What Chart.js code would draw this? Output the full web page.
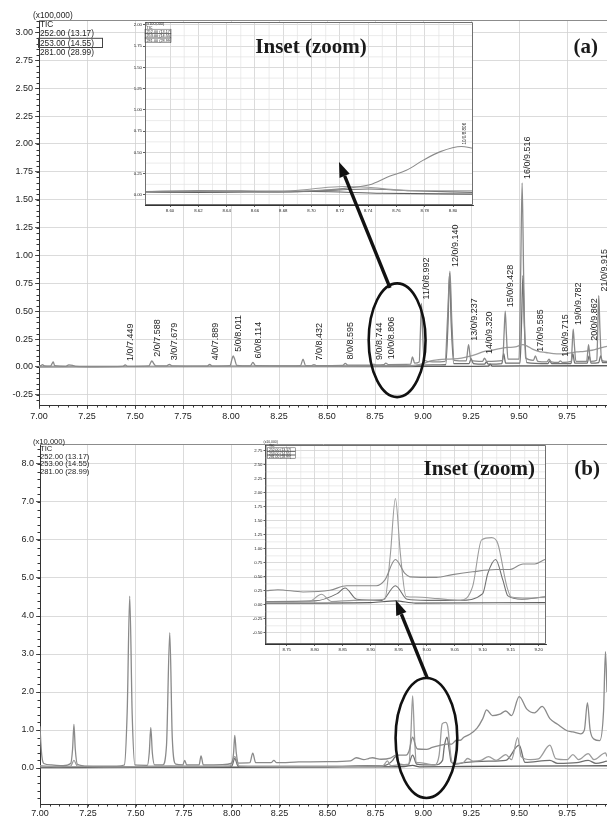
<!DOCTYPE html>
<html>
<head>
<meta charset="utf-8">
<meta name="viewport" content="width=device-width, initial-scale=1.0" />
<style>
  html, body { margin: 0; padding: 0; background: #fff; overflow: hidden; }
  #page { position: relative; width: 607px; height: 817px; }
  #page canvas { position: absolute; display: block; }
</style>
</head>
<body>
<script src="https://cdn.jsdelivr.net/npm/chart.js@4.4.1/dist/chart.umd.min.js"></script>
<div id="page">
  <canvas id="chartA" width="607" height="425" style="left:0;top:0"></canvas>
  <canvas id="insetA" width="370" height="205" style="left:110px;top:12px"></canvas>
  <canvas id="chartB" width="607" height="392" style="left:0;top:425px"></canvas>
  <canvas id="insetB" width="315" height="220" style="left:240px;top:435px"></canvas>
  <canvas id="marks" width="607" height="817" style="left:0;top:0"></canvas>
</div>
<script>
  // ---------- axis ranges and tick labels ----------
  const timeRange = [7.00, 9.958];
  const timeTicks = [7.00, 7.25, 7.50, 7.75, 8.00, 8.25, 8.50, 8.75, 9.00, 9.25, 9.50, 9.75];
  const aRange = [-0.341, 3.112];
  const aTicks = [-0.25, 0, 0.25, 0.50, 0.75, 1.00, 1.25, 1.50, 1.75, 2.00, 2.25, 2.50, 2.75, 3.00];
  const bRange = [-0.947, 8.526];
  const bTicks = [0, 1, 2, 3, 4, 5, 6, 7, 8];
  const zoomATimeRange = [8.5823, 8.8141];
  const zoomATimeTicks = [8.60, 8.62, 8.64, 8.66, 8.68, 8.70, 8.72, 8.74, 8.76, 8.78, 8.80];
  const zoomARange = [-0.118, 2.035];
  const zoomATicks = [0, 0.25, 0.50, 0.75, 1.00, 1.25, 1.50, 1.75, 2.00];
  const zoomBTimeRange = [8.712, 9.213];
  const zoomBTimeTicks = [8.75, 8.80, 8.85, 8.90, 8.95, 9.00, 9.05, 9.10, 9.15, 9.20];
  const zoomBRange = [-0.70, 2.855];
  const zoomBTicks = [-0.50, -0.25, 0, 0.25, 0.50, 0.75, 1.00, 1.25, 1.50, 1.75, 2.00, 2.25, 2.50, 2.75];

  const traceNames = ['TIC', '252.00 (13.17)', '253.00 (14.55)', '281.00 (28.99)'];

  // ---------- run (a), intensity x100,000 : [time, value] ----------
  const aTic = [
    [7.000,0.010],[7.010,0.012],[7.018,0.022],[7.028,0.010],[7.060,0.008],[7.068,0.030],[7.074,0.045],[7.082,0.012],
    [7.140,0.006],[7.155,0.018],[7.175,0.015],[7.190,0.006],[7.300,0.002],[7.436,0.005],[7.449,0.018],[7.462,0.006],
    [7.572,0.010],[7.582,0.040],[7.588,0.055],[7.596,0.035],[7.608,0.010],[7.665,0.010],[7.679,0.024],[7.692,0.010],
    [7.876,0.008],[7.889,0.024],[7.902,0.008],[7.995,0.012],[8.005,0.070],[8.011,0.100],[8.018,0.075],[8.030,0.015],
    [8.100,0.010],[8.114,0.040],[8.128,0.012],[8.300,0.010],[8.362,0.012],[8.375,0.070],[8.388,0.012],[8.420,0.012],
    [8.432,0.022],[8.444,0.012],[8.582,0.014],[8.595,0.032],[8.608,0.016],[8.700,0.016],[8.735,0.018],[8.744,0.026],
    [8.755,0.018],[8.795,0.020],[8.806,0.034],[8.818,0.022],[8.935,0.025],[8.945,0.090],[8.956,0.035],[8.980,0.045],
    [8.986,0.300],[8.992,0.570],[8.998,0.300],[9.006,0.060],[9.050,0.045],[9.115,0.050],[9.128,0.450],[9.140,0.860],
    [9.150,0.400],[9.162,0.060],[9.225,0.055],[9.237,0.200],[9.249,0.060],[9.310,0.050],[9.320,0.080],[9.332,0.050],
    [9.415,0.060],[9.422,0.300],[9.428,0.500],[9.434,0.300],[9.442,0.070],[9.500,0.070],[9.508,0.800],[9.516,1.650],
    [9.524,0.800],[9.534,0.080],[9.575,0.060],[9.585,0.100],[9.597,0.050],[9.645,0.045],[9.656,0.070],[9.668,0.045],
    [9.705,0.040],[9.715,0.055],[9.726,0.040],[9.772,0.050],[9.777,0.200],[9.782,0.340],[9.788,0.200],[9.796,0.050],
    [9.852,0.050],[9.862,0.200],[9.872,0.050],[9.905,0.060],[9.910,0.350],[9.915,0.640],[9.921,0.350],[9.930,0.060],
    [9.958,0.050]
  ];
  const a252 = [
    [7.000,0.004],[7.500,0.004],[8.000,0.006],[8.500,0.008],[8.900,0.010],[8.960,0.015],[9.000,0.030],[9.040,0.055],
    [9.080,0.065],[9.120,0.070],[9.160,0.072],[9.200,0.080],[9.240,0.095],[9.280,0.115],[9.320,0.140],[9.360,0.150],
    [9.400,0.165],[9.440,0.175],[9.480,0.180],[9.520,0.200],[9.540,0.190],[9.570,0.160],[9.600,0.140],[9.640,0.130],
    [9.680,0.120],[9.720,0.118],[9.760,0.125],[9.800,0.135],[9.840,0.140],[9.880,0.150],[9.920,0.170],[9.958,0.185]
  ];
  const a253 = [
    [7.000,0.006],[7.700,0.006],[8.300,0.008],[8.900,0.012],[9.050,0.018],[9.118,0.020],[9.130,0.400],[9.138,0.840],
    [9.147,0.380],[9.160,0.030],[9.240,0.030],[9.250,0.075],[9.262,0.030],[9.320,0.025],[9.330,0.045],[9.340,0.025],
    [9.410,0.030],[9.420,0.120],[9.430,0.035],[9.505,0.035],[9.513,0.400],[9.520,0.820],[9.527,0.400],[9.540,0.040],
    [9.650,0.030],[9.660,0.055],[9.670,0.030],[9.770,0.030],[9.780,0.120],[9.790,0.035],[9.855,0.035],[9.865,0.100],
    [9.875,0.035],[9.915,0.040],[9.925,0.100],[9.935,0.040],[9.958,0.040]
  ];
  const a281 = [
    [7.000,0.002],[8.000,0.003],[8.900,0.004],[9.200,0.006],[9.340,0.008],[9.350,0.025],[9.360,0.008],[9.600,0.010],[9.958,0.012]
  ];
  // numbered peaks of run (a)
  const aPeakTimes = [7.449, 7.588, 7.679, 7.889, 8.011, 8.114, 8.432, 8.595, 8.744, 8.806, 8.992,
    9.140, 9.237, 9.320, 9.428, 9.516, 9.585, 9.715, 9.782, 9.862, 9.915];

  // zoomed window of run (a)
  const zA1 = [[8.582,0.040],[8.620,0.045],[8.660,0.045],[8.700,0.050],[8.725,0.080],[8.741,0.120],[8.755,0.220],
    [8.767,0.290],[8.779,0.410],[8.791,0.510],[8.806,0.570],[8.814,0.550]];
  const zA2 = [[8.582,0.030],[8.620,0.040],[8.640,0.035],[8.660,0.030],[8.680,0.040],[8.700,0.070],[8.722,0.100],
    [8.740,0.090],[8.760,0.060],[8.780,0.050],[8.814,0.050]];
  const zA3 = [[8.582,0.040],[8.620,0.050],[8.650,0.045],[8.680,0.035],[8.720,0.060],[8.740,0.070],[8.770,0.050],[8.814,0.030]];
  const zA4 = [[8.582,0.030],[8.650,0.030],[8.700,0.040],[8.750,0.020],[8.814,0.010]];
  const zAPeak = 8.806;

  // ---------- run (b), intensity x10,000 ----------
  const bTic = [
    [7.000,1.100],[7.004,0.700],[7.010,0.300],[7.020,0.120],[7.060,0.080],[7.120,0.060],[7.160,0.120],[7.170,0.500],
    [7.177,1.150],[7.184,0.500],[7.195,0.100],[7.250,0.050],[7.400,0.050],[7.440,0.080],[7.455,1.500],[7.468,4.520],
    [7.481,1.400],[7.495,0.080],[7.560,0.070],[7.570,0.400],[7.578,1.070],[7.586,0.400],[7.598,0.080],[7.640,0.080],
    [7.660,0.600],[7.677,3.560],[7.690,0.800],[7.708,0.100],[7.745,0.080],[7.755,0.200],[7.765,0.080],[7.830,0.080],
    [7.840,0.320],[7.852,0.080],[7.950,0.090],[8.000,0.130],[8.010,0.400],[8.016,0.860],[8.024,0.400],[8.035,0.130],
    [8.095,0.140],[8.110,0.390],[8.125,0.140],[8.205,0.140],[8.220,0.200],[8.235,0.140],[8.350,0.160],[8.500,0.170],
    [8.620,0.190],[8.650,0.270],[8.690,0.220],[8.714,0.250],[8.734,0.270],[8.779,0.230],[8.827,0.260],[8.857,0.340],
    [8.910,0.340],[8.925,0.440],[8.944,0.810],[8.961,0.560],[8.970,0.500],[9.017,0.490],[9.046,0.540],[9.082,0.590],
    [9.124,0.630],[9.148,0.630],[9.172,0.730],[9.193,0.730],[9.211,0.810],[9.240,0.880],[9.280,1.050],[9.310,1.300],
    [9.330,1.530],[9.360,1.380],[9.400,1.420],[9.430,1.500],[9.460,1.380],[9.500,1.880],[9.540,1.550],[9.580,1.450],
    [9.620,1.620],[9.660,1.300],[9.700,1.150],[9.750,0.980],[9.780,0.950],[9.820,0.900],[9.840,1.000],[9.856,1.720],
    [9.870,1.000],[9.890,0.760],[9.920,0.720],[9.940,1.500],[9.950,3.060],[9.958,2.000]
  ];
  const b252 = [
    [7.000,0.060],[7.100,0.040],[7.160,0.050],[7.177,0.200],[7.195,0.050],[7.400,0.030],[7.600,0.040],[7.800,0.040],
    [7.990,0.050],[8.016,0.300],[8.040,0.050],[8.300,0.040],[8.600,0.040],[8.714,0.050],[8.790,0.060],[8.812,0.190],
    [8.830,0.060],[8.870,0.080],[8.925,0.100],[8.935,0.900],[8.944,1.900],[8.953,0.900],[8.963,0.150],[8.980,0.140],
    [9.020,0.110],[9.060,0.080],[9.082,0.330],[9.098,1.160],[9.116,1.200],[9.127,1.090],[9.143,0.330],[9.151,0.140],
    [9.180,0.120],[9.211,0.150],[9.230,0.250],[9.260,0.180],[9.300,0.200],[9.340,0.300],[9.380,0.200],[9.430,0.350],
    [9.460,0.220],[9.492,0.800],[9.510,0.300],[9.560,0.220],[9.600,0.240],[9.660,0.600],[9.690,0.250],[9.750,0.220],
    [9.780,0.350],[9.810,0.220],[9.860,0.380],[9.890,0.220],[9.950,0.400],[9.958,0.300]
  ];
  const b253 = [
    [7.000,0.020],[7.470,0.030],[7.680,0.050],[7.900,0.040],[8.000,0.050],[8.016,0.250],[8.035,0.040],[8.500,0.040],
    [8.714,0.060],[8.800,0.070],[8.840,0.200],[8.854,0.300],[8.875,0.100],[8.920,0.080],[8.944,0.340],[8.965,0.100],
    [9.000,0.080],[9.060,0.080],[9.100,0.200],[9.109,0.560],[9.123,0.810],[9.136,0.440],[9.145,0.160],[9.170,0.100],
    [9.211,0.140],[9.340,0.180],[9.430,0.200],[9.500,0.600],[9.530,0.150],[9.660,0.200],[9.700,0.120],[9.800,0.140],
    [9.860,0.200],[9.900,0.120],[9.958,0.180]
  ];
  const b281 = [
    [7.000,0.010],[7.500,0.020],[8.000,0.020],[8.500,0.025],[8.714,0.030],[8.900,0.040],[8.944,0.070],[8.980,0.030],
    [9.211,0.040],[9.500,0.050],[9.958,0.060]
  ];

  const greys = ['#8a8a8a', '#9c9c9c', '#707070', '#5c5c5c'];
  const sans = '"Liberation Sans", Arial, sans-serif';
  const serif = '"Liberation Serif", "Times New Roman", serif';

  // ---------- drawing helpers ----------
  const halfSteps = t => t.slice(1).map((v, i) => (v + t[i]) / 2);

  function minorTicks(ctx, scale, step, len, horizontal) {
    const n0 = Math.ceil(scale.min / step - 1e-9), n1 = Math.floor(scale.max / step + 1e-9);
    ctx.beginPath();
    for (let n = n0; n <= n1; n++) {
      const p = Math.round(scale.getPixelForValue(n * step)) + 0.5;
      if (horizontal) { ctx.moveTo(p, scale.top); ctx.lineTo(p, scale.top + len); }
      else { ctx.moveTo(scale.right, p); ctx.lineTo(scale.right - len, p); }
    }
    ctx.stroke();
  }

  const decor = {
    id: 'decor',
    beforeDraw(chart, args, o) {
      if (!o.fill) return;
      const a = chart.chartArea, ctx = chart.ctx;
      ctx.save();
      ctx.fillStyle = '#fff';
      ctx.fillRect(a.left, a.top, a.right - a.left, a.bottom - a.top);
      ctx.restore();
    },
    beforeDatasetsDraw(chart, args, o) {
      if (!o.minorGrid) return;
      const a = chart.chartArea, ctx = chart.ctx, {x, y} = chart.scales;
      ctx.save();
      ctx.strokeStyle = '#e3e3e3';
      ctx.lineWidth = 0.7;
      ctx.beginPath();
      o.minorGrid[0].forEach(v => { const p = x.getPixelForValue(v); ctx.moveTo(p, a.top); ctx.lineTo(p, a.bottom); });
      o.minorGrid[1].forEach(v => { const p = y.getPixelForValue(v); ctx.moveTo(a.left, p); ctx.lineTo(a.right, p); });
      ctx.stroke();
      ctx.restore();
    },
    afterDraw(chart, args, o) {
      const a = chart.chartArea, ctx = chart.ctx, {x, y} = chart.scales;
      ctx.save();
      // frame
      ctx.strokeStyle = o.frameColor;
      ctx.lineWidth = 1;
      ctx.beginPath();
      if (o.box) ctx.rect(a.left + 0.5, a.top + 0.5, a.right - a.left - 1, a.bottom - a.top - 1);
      else { ctx.moveTo(a.left, a.top + 0.5); ctx.lineTo(a.right, a.top + 0.5); }
      ctx.stroke();
      // minor ticks
      if (o.minor) {
        ctx.strokeStyle = '#333';
        minorTicks(ctx, x, o.minor[0], o.minor[2], true);
        minorTicks(ctx, y, o.minor[1], o.minor[2], false);
      }
      // trace list in the corner
      const L = o.legend;
      if (L) {
        ctx.fillStyle = '#1e1e1e';
        ctx.font = L.size + 'px ' + sans;
        ctx.textBaseline = 'middle';
        ctx.textAlign = 'left';
        ctx.fillText(L.unit, a.left + L.unitDx, a.top + L.unitDy);
        traceNames.forEach((t, i) => {
          const ty = a.top + L.first + i * L.gap;
          ctx.fillText(t, a.left + L.dx, ty);
          if (L.boxed.includes(i)) {
            ctx.strokeStyle = '#444';
            ctx.lineWidth = L.size > 6 ? 1 : 0.5;
            ctx.strokeRect(a.left + L.dx - 1.5, ty - L.gap / 2 - 0.5, L.boxW, L.gap);
          }
        });
      }
      // retention-time labels above the peaks
      const P = o.peaks;
      if (P) {
        ctx.fillStyle = '#1e1e1e';
        ctx.font = P.size + 'px ' + sans;
        ctx.textAlign = 'left';
        ctx.textBaseline = 'top';
        P.times.forEach((t, i) => {
          const top = P.series.find(p => p[0] === t);
          ctx.save();
          ctx.translate(x.getPixelForValue(t) + 1, y.getPixelForValue(top[1]) - P.gap);
          ctx.rotate(-Math.PI / 2);
          ctx.fillText((P.numbers[i]) + '/0/' + t.toFixed(3), 0, 0);
          ctx.restore();
        });
      }
      ctx.restore();
    }
  };

  function axis(range, ticks, digits, size, tickLen, pad, fit) {
    return {
      type: 'linear', min: range[0], max: range[1],
      afterBuildTicks: s => { s.ticks = ticks.map(value => ({value})); },
      afterFit: fit,
      ticks: { autoSkip: false, maxRotation: 0, padding: pad, color: '#222',
        font: { family: sans, size }, callback: v => v.toFixed(digits) },
      grid: { color: '#d2d2d2', lineWidth: 0.8, tickColor: '#333', tickLength: tickLen },
      border: { color: '#333', width: 1 }
    };
  }

  function makeChart(id, series, lineWidth, padding, xAxis, yAxis, deco) {
    return new Chart(document.getElementById(id), {
      type: 'scatter',
      data: {
        datasets: series.map((s, i) => ({
          data: s.map(p => ({x: p[0], y: p[1]})),
          borderColor: greys[i], borderWidth: lineWidth, showLine: true,
          pointRadius: 0, cubicInterpolationMode: 'monotone'
        }))
      },
      options: {
        responsive: false, animation: false, devicePixelRatio: 1, events: [],
        layout: { padding },
        plugins: { legend: { display: false }, tooltip: { enabled: false }, decor: deco },
        scales: { x: xAxis, y: yAxis }
      },
      plugins: [decor]
    });
  }

  // ---------- charts ----------
  const chartA = makeChart('chartA', [aTic, a252, a253, a281], 1.3,
    { top: 20, right: 0, bottom: 0, left: 0 },
    axis(timeRange, timeTicks, 2, 9, 4, 2, s => { s.height = 20; }),
    axis(aRange, aTicks, 2, 9, 4, 2, s => { s.width = 39; }),
    { frameColor: '#8c8c8c', minor: [0.05, 0.05, 2.5],
      legend: { unit: '(x100,000)', unitDx: -6, unitDy: -4, dx: 1, first: 5, gap: 9.2, size: 8.3, boxed: [2], boxW: 64 },
      peaks: { times: aPeakTimes, numbers: aPeakTimes.map((t, i) => i + 1), series: aTic, gap: 4, size: 9 } });

  const insetA = makeChart('insetA', [zA1, zA2, zA3, zA4], 1.1,
    { top: 10, right: 7, bottom: 0, left: 0 },
    axis(zoomATimeRange, zoomATimeTicks, 2, 4.3, 2, 1, s => { s.height = 12; }),
    axis(zoomARange, zoomATicks, 2, 4.3, 2, 1, s => { s.width = 35; }),
    { fill: true, box: true, frameColor: '#707070', minorGrid: [halfSteps(zoomATimeTicks), halfSteps(zoomATicks)],
      legend: { unit: '(x100,000)', unitDx: 1, unitDy: 1.5, dx: 1.5, first: 5.5, gap: 4.4, size: 3.8, boxed: [1, 2, 3], boxW: 26 },
      peaks: { times: [zAPeak], numbers: [10], series: zA1, gap: 2, size: 4.6 } });

  const chartB = makeChart('chartB', [bTic, b252, b253, b281], 1.3,
    { top: 19, right: 0, bottom: 0, left: 0 },
    axis(timeRange, timeTicks, 2, 9, 4, 0, s => { s.height = 13; }),
    axis(bRange, bTicks, 1, 9, 4, 2, s => { s.width = 40; }),
    { frameColor: '#8c8c8c', minor: [0.05, 0.2, 2.5],
      legend: { unit: '(x10,000)', unitDx: -7, unitDy: -2, dx: 0, first: 5, gap: 7.6, size: 7.6, boxed: [], boxW: 0 } });

  const insetB = makeChart('insetB', [bTic, b252, b253, b281], 1.1,
    { top: 10, right: 9, bottom: 0, left: 0 },
    axis(zoomBTimeRange, zoomBTimeTicks, 2, 4.3, 2, 1, s => { s.height = 11; }),
    axis(zoomBRange, zoomBTicks, 2, 4.3, 2, 1, s => { s.width = 25.5; }),
    { fill: true, box: true, frameColor: '#707070', minorGrid: [halfSteps(zoomBTimeTicks), halfSteps(zoomBTicks)],
      legend: { unit: '(x10,000)', unitDx: -2, unitDy: -3, dx: 3.5, first: 1.5, gap: 3.6, size: 3.4, boxed: [1, 2, 3], boxW: 28 } });

  // ---------- rings, arrows and titles over the charts ----------
  const mk = document.getElementById('marks').getContext('2d');

  function toPage(chart, x, y) {
    const c = chart.canvas;
    return [c.offsetLeft + chart.scales.x.getPixelForValue(x), c.offsetTop + chart.scales.y.getPixelForValue(y)];
  }

  function ring(chart, cx, cy, rx, ry) {
    const [x, y] = toPage(chart, cx, cy);
    const [x2, y2] = toPage(chart, cx + rx, cy + ry);
    mk.beginPath();
    mk.ellipse(x, y, Math.abs(x2 - x), Math.abs(y2 - y), 0, 0, Math.PI * 2);
    mk.stroke();
  }

  function arrow(from, to) {
    const [x1, y1] = from, [x2, y2] = to;
    const ang = Math.atan2(y2 - y1, x2 - x1), head = 15, half = 5.5;
    const bx = x2 - head * Math.cos(ang), by = y2 - head * Math.sin(ang);
    mk.beginPath(); mk.moveTo(x1, y1); mk.lineTo(bx, by); mk.stroke();
    mk.beginPath();
    mk.moveTo(x2, y2);
    mk.lineTo(bx + half * Math.sin(ang), by - half * Math.cos(ang));
    mk.lineTo(bx - half * Math.sin(ang), by + half * Math.cos(ang));
    mk.closePath(); mk.fill();
  }

  function pageArea(chart) {
    const c = chart.canvas, a = chart.chartArea;
    return { left: c.offsetLeft + a.left, right: c.offsetLeft + a.right, top: c.offsetTop + a.top };
  }

  mk.strokeStyle = '#111';
  mk.fillStyle = '#111';
  mk.lineWidth = 2.6;
  ring(chartA, 8.865, 0.24, 0.148, 0.51);
  ring(chartB, 9.016, 0.79, 0.161, 1.58);
  mk.lineWidth = 3.4;
  arrow(toPage(chartA, 8.828, 0.71), toPage(insetA, 8.7194, 0.388));
  arrow(toPage(chartB, 9.020, 2.37), toPage(insetB, 8.9446, 0.084));

  mk.fillStyle = '#1a1a1a';
  mk.font = 'bold 21px ' + serif;
  mk.textBaseline = 'alphabetic';
  const ia = pageArea(insetA), ib = pageArea(insetB), pa = pageArea(chartA), pb = pageArea(chartB);
  mk.textAlign = 'center';
  mk.fillText('Inset (zoom)', (ia.left + ia.right) / 2 + 2, ia.top + 31);
  mk.textAlign = 'right';
  mk.fillText('Inset (zoom)', ib.right - 11, ib.top + 30);
  mk.fillText('(a)', pa.right - 9, pa.top + 33);
  mk.fillText('(b)', pb.right - 7, pb.top + 31);
</script>
</body>
</html>
